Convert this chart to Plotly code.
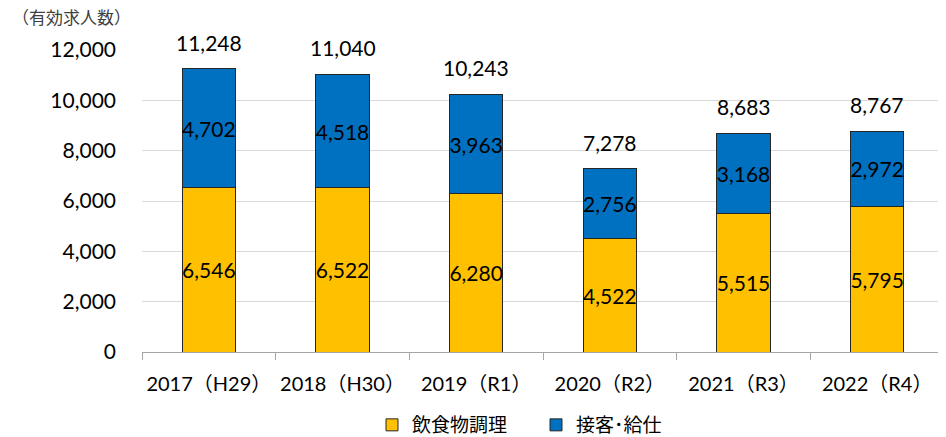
import plotly.graph_objects as go

categories = ["2017（H29）", "2018（H30）", "2019（R1）", "2020（R2）", "2021（R3）", "2022（R4）"]
cooking = [6546, 6522, 6280, 4522, 5515, 5795]
service = [4702, 4518, 3963, 2756, 3168, 2972]
totals = [11248, 11040, 10243, 7278, 8683, 8767]

FONT = "Lato, 'Noto Sans CJK JP', sans-serif"
NUM = 21
# page has an 8px body margin, so the figure is sized/offset to compensate
OFF = 8
W, H = 946 - OFF, 437 - OFF
L, R, T, B = 142 - OFF, 2, 50 - OFF, 85
PW, PH = W - L - R, H - T - B

fig = go.Figure()
fig.add_trace(go.Bar(
    x=categories, y=cooking, name="飲食物調理",
    marker=dict(color="#FFC000", line=dict(color="#262626", width=1)),
    text=[f"{v:,}" for v in cooking], textposition="inside", insidetextanchor="middle",
    constraintext="none", cliponaxis=False,
    textfont=dict(size=NUM, color="#000000", family=FONT), textangle=0,
))
fig.add_trace(go.Bar(
    x=categories, y=service, name="接客･給仕",
    marker=dict(color="#0070C0", line=dict(color="#262626", width=1)),
    text=[f"{v:,}" for v in service], textposition="inside", insidetextanchor="middle",
    constraintext="none", cliponaxis=False,
    textfont=dict(size=NUM, color="#000000", family=FONT), textangle=0,
))

annotations = [dict(text="（有効求人数）", x=(10 - OFF - L) / PW, y=(H - B - (18 - OFF)) / PH,
                    xref="paper", yref="paper",
                    xanchor="left", yanchor="middle", showarrow=False,
                    font=dict(size=17, family=FONT, color="#404040"))]
for c, t in zip(categories, totals):
    annotations.append(dict(x=c, y=t, xref="x", yref="y", text=f"{t:,}", showarrow=False,
                            xanchor="center", yanchor="bottom", yshift=12,
                            font=dict(size=NUM, color="#000000", family=FONT)))

fig.update_layout(
    barmode="stack", bargap=0.6,
    width=W, height=H,
    margin=dict(l=L, r=R, t=T, b=B, autoexpand=False),
    plot_bgcolor="white", paper_bgcolor="white",
    font=dict(family=FONT, size=18, color="#000000"),
    legend=dict(orientation="h", xref="container", yref="container",
                x=(372 - OFF) / W, xanchor="left", y=(437 - 425) / H, yanchor="middle",
                font=dict(size=19, family=FONT, color="#000000"), entrywidth=119,
                traceorder="normal", bgcolor="rgba(0,0,0,0)"),
    annotations=annotations,
)
fig.update_yaxes(range=[0, 12000], dtick=2000, tickformat=",", showgrid=True,
                 gridcolor="#D9D9D9", gridwidth=1, zeroline=False, showline=False,
                 ticks="", ticklabelstandoff=25, automargin=False,
                 tickfont=dict(size=NUM, color="#000000"))
fig.update_xaxes(showline=True, linecolor="#A6A6A6", linewidth=1, ticks="outside",
                 tickson="boundaries", ticklen=7, tickcolor="#A6A6A6", automargin=False,
                 ticklabelstandoff=14, tickangle=0,
                 tickfont=dict(size=20, color="#000000"))

fig.write_html("out.html")
